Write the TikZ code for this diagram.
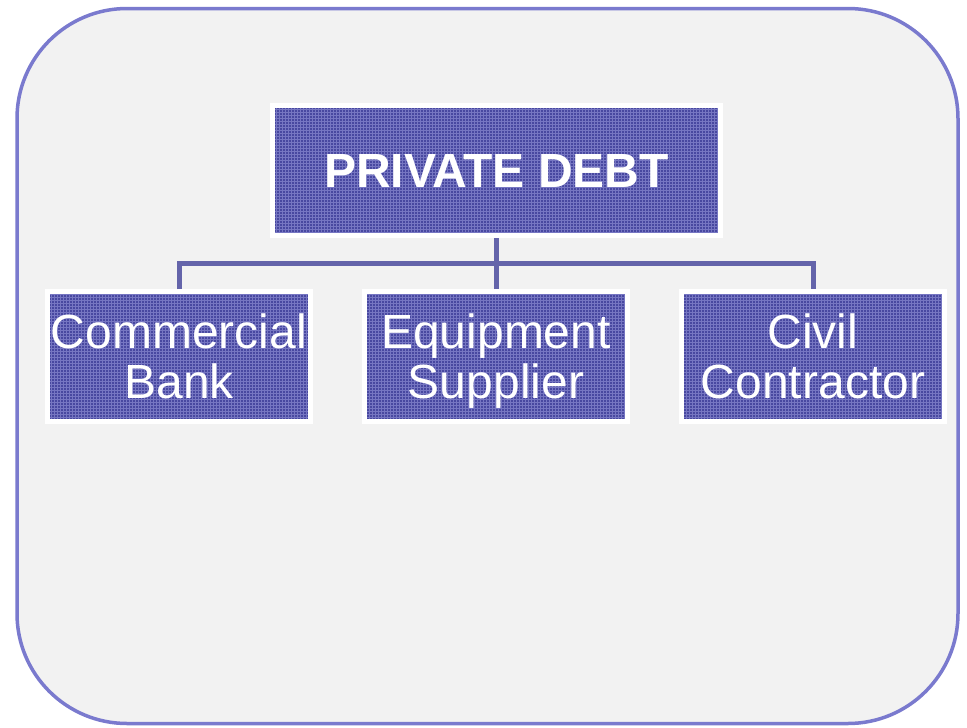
\documentclass[tikz,border=0pt]{standalone}
\usepackage{fontspec}
\setmainfont{Liberation Sans}
\definecolor{outerline}{RGB}{122,122,206}
\definecolor{panel}{RGB}{242,242,242}
\definecolor{boxblue}{RGB}{72,72,160}
\definecolor{boxgrid}{RGB}{118,118,194}
\definecolor{conn}{RGB}{100,100,170}
\tikzset{
  orgbox/.style={draw=white, line width=5pt, fill=boxblue, text=white,
    align=center, inner sep=0pt,
    path picture={\draw[boxgrid, line width=0.7pt, step=3pt]
      (path picture bounding box.south west) grid (path picture bounding box.north east);}},
  topbox/.style={orgbox, minimum width=448pt, minimum height=130pt,
    font=\fontsize{48}{50}\selectfont\bfseries},
  childbox/.style={orgbox, minimum width=263pt, minimum height=130pt,
    text depth=0pt, font=\fontsize{48}{50}\selectfont},
  connline/.style={draw=conn, line width=5pt}
}
\begin{document}
\begin{tikzpicture}[x=1pt,y=-1pt]
\useasboundingbox (0,0) rectangle (967,728);
\draw[line width=3.5pt, draw=outerline, fill=panel, rounded corners=110pt]
  (17,8.5) rectangle (958,723.5);
\node[topbox] (top) at (496.5,170.5) {PRIVATE DEBT};
\node[childbox] (cb) at (179,356.5) {Commercial\\Bank};
\node[childbox] (es) at (496,356.5) {Equipment\\Supplier};
\node[childbox] (cc) at (813,356.5) {Civil\\Contractor};
\coordinate (j) at (496.5,263);
\draw[connline] (top.south) -- (top.south |- j);
\draw[connline] (cb.north) |- (j) -| (cc.north);
\draw[connline] (es.north) -- (es.north |- j);
\end{tikzpicture}
\end{document}
